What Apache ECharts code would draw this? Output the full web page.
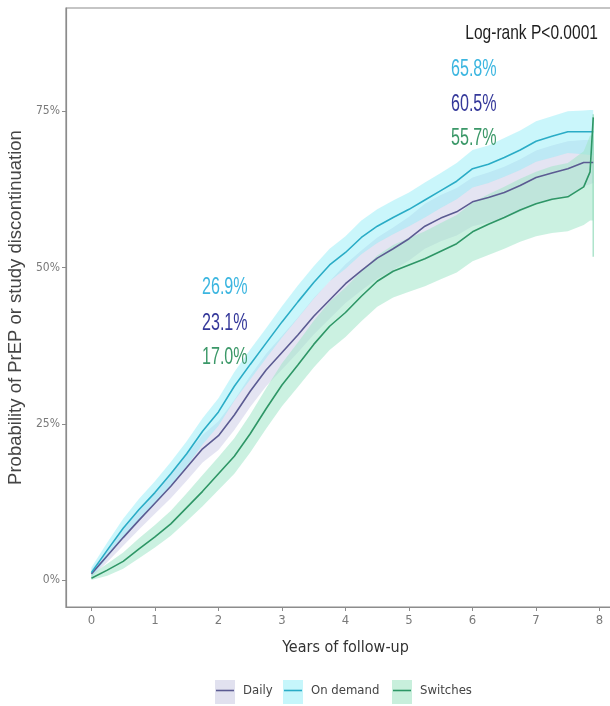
<!DOCTYPE html>
<html>
<head>
<meta charset="utf-8">
<script src="https://cdn.jsdelivr.net/npm/echarts@6/dist/echarts.min.js"></script>
<style>
html,body{margin:0;padding:0;background:#fff;overflow:hidden;}
#chart{width:610px;height:706px;}
</style>
</head>
<body>
<div id="chart"></div>
<script>
// ---- data (years of follow-up, cumulative probability in %) ----
const years = [0,0.25,0.5,0.75,1,1.25,1.5,1.75,2,2.25,2.5,2.75,3,3.25,3.5,3.75,4,4.25,4.5,4.75,5,5.25,5.5,5.75,6,6.25,6.5,6.75,7,7.25,7.5,7.75,7.85,7.9];

const dailyEst   = [1.0,3.9,6.8,9.6,12.3,15.0,18.0,21.0,23.1,26.4,30.2,33.6,36.4,39.2,42.2,44.8,47.4,49.5,51.5,53.0,54.6,56.6,57.9,58.9,60.5,61.2,62.0,63.1,64.4,65.1,65.8,66.8,66.8,66.8];
const dailyLower = [0.4,2.9,5.5,8.1,10.6,13.1,15.9,18.8,20.8,24.0,27.7,31.0,33.7,36.4,39.3,41.8,44.3,46.3,48.2,49.6,51.1,53.0,54.2,55.1,56.6,57.2,57.9,58.9,60.1,60.7,61.4,63.0,63.3,63.5];
const dailyUpper = [1.6,4.9,8.1,11.1,14.0,16.9,20.1,23.2,25.4,28.8,32.7,36.2,39.1,42.0,45.1,47.8,50.5,52.7,54.8,56.4,58.1,60.2,61.6,62.7,64.4,65.2,66.1,67.3,68.7,69.5,70.2,70.4,70.4,70.4];

const onDemandEst   = [1.2,4.8,8.3,11.3,14.0,17.0,20.2,23.8,26.9,31.0,34.5,37.9,41.3,44.5,47.6,50.4,52.4,54.8,56.6,58.0,59.3,60.8,62.3,63.8,65.8,66.5,67.6,68.8,70.2,71.0,71.7,71.7,71.7,71.7];
const onDemandLower = [0.4,3.6,6.8,9.6,12.2,15.1,18.2,21.7,24.7,28.7,32.1,35.5,38.8,41.9,45.0,47.8,49.8,52.1,53.9,55.3,56.6,58.0,59.5,60.9,62.8,63.5,64.5,65.6,66.9,67.6,68.3,68.1,68.0,68.0];
const onDemandUpper = [2.0,6.0,9.8,13.0,15.8,18.9,22.2,25.9,29.1,33.3,36.9,40.3,43.8,47.1,50.2,53.0,55.0,57.5,59.3,60.7,62.0,63.6,65.1,66.7,68.8,69.5,70.7,71.9,73.4,74.2,75.0,75.1,75.2,75.2];

const switchesEst   = [0.3,1.6,3.0,5.0,6.9,9.0,11.6,14.2,17.0,19.8,23.4,27.4,31.2,34.4,37.7,40.6,42.8,45.4,47.8,49.4,50.4,51.4,52.6,53.8,55.7,56.9,58.0,59.2,60.2,60.9,61.3,62.9,65.3,74.0];
const switchesLower = [0.0,0.7,1.8,3.5,5.2,7.1,9.4,11.8,14.4,17.0,20.4,24.2,27.8,30.9,34.0,36.8,38.9,41.4,43.7,45.2,46.1,47.0,48.1,49.2,51.0,52.0,53.0,54.1,55.0,55.5,55.8,56.8,57.5,57.5];
const switchesUpper = [0.9,2.6,4.4,6.7,8.8,11.1,13.9,16.8,19.7,22.7,26.5,30.7,34.7,38.0,41.5,44.5,46.8,49.4,51.9,53.6,54.7,55.8,57.1,58.4,60.4,61.7,62.9,64.2,65.3,66.2,66.7,68.6,71.1,71.1];
const switchesFinalYear = 7.9;
const switchesFinalCI = [51.7, 74.5];

const groups = ['Daily', 'On demand', 'Switches'];
const xTicks = [0,1,2,3,4,5,6,7,8];
const yTicks = [0,25,50,75];

// annotated estimates at 2 and 6 years (order: on demand, daily, switches)
const annot2y = ['26.9%', '23.1%', '17.0%'];
const annot6y = ['65.8%', '60.5%', '55.7%'];
const pvalueText = 'Log-rank P<0.0001';

// ---- styling ----
const FONT = "'DejaVu Sans Condensed','Liberation Sans',sans-serif";
const lineColor = {'Daily':'#5b5b92','On demand':'#2aacc6','Switches':'#2e9666'};
const bandColor = {'Daily':'rgba(205,205,232,0.55)','On demand':'rgba(150,238,248,0.5)','Switches':'rgba(160,230,200,0.55)'};
const legendBand = {'Daily':'#e1e1ef','On demand':'#c6f6fb','Switches':'#c8efdc'};
const annColor = ['#3cb6e0','#34389a','#3b9868'];

const est = {'Daily':dailyEst,'On demand':onDemandEst,'Switches':switchesEst};
const lo  = {'Daily':dailyLower,'On demand':onDemandLower,'Switches':switchesLower};
const up  = {'Daily':dailyUpper,'On demand':onDemandUpper,'Switches':switchesUpper};

function bandSeries(g){
  return {
    type:'custom', name:g+' band', silent:true, z:1,
    data:[[years[0], lo[g][0]]],
    renderItem:function(params, api){
      const pts=[];
      for(let i=0;i<years.length;i++) pts.push(api.coord([years[i], up[g][i]]));
      for(let i=years.length-1;i>=0;i--) pts.push(api.coord([years[i], lo[g][i]]));
      return {type:'polygon', shape:{points:pts}, style:{fill:bandColor[g]}};
    }
  };
}
function lineSeries(g){
  return {
    type:'line', name:g, z:3, symbol:'none', showSymbol:false, silent:true,
    data: years.map((t,i)=>[t, est[g][i]]),
    lineStyle:{color:lineColor[g], width:1.6},
    itemStyle:{color:lineColor[g]}
  };
}

const series = [];
groups.forEach(g=>series.push(bandSeries(g)));
series.push({
  type:'line', name:'Switches final CI', z:2, symbol:'none', silent:true,
  data:[[switchesFinalYear, switchesFinalCI[0]],[switchesFinalYear, switchesFinalCI[1]]],
  lineStyle:{color:'rgba(120,210,170,0.6)', width:1.5}
});
groups.forEach(g=>series.push(lineSeries(g)));

const legendLeft = {'Daily':215,'On demand':283,'Switches':392};
const legends = [];
groups.forEach(g=>{
  legends.push({
    data:[{name:g, icon:'rect', itemStyle:{color:legendBand[g], borderWidth:0}}],
    left:legendLeft[g], top:680, itemWidth:20, itemHeight:24, selectedMode:false,
    formatter:()=> '', z:2, padding:0
  });
  legends.push({
    data:[{name:g, icon:'rect', itemStyle:{color:lineColor[g], borderWidth:0}}],
    left:legendLeft[g]+1, top:684, itemWidth:18, itemHeight:1.6, selectedMode:false,
    z:3, padding:0,
    textStyle:{fontSize:13, color:'#444', fontFamily:FONT, padding:[0,0,0,4]}
  });
});

const chart = echarts.init(document.getElementById('chart'), null, {renderer:'canvas'});
chart.setOption({
  animation:false,
  backgroundColor:'#fff',
  textStyle:{fontFamily:FONT},
  grid:{left:66, width:559, top:8, bottom:99, show:true, borderColor:'#8c8c8c', borderWidth:1.2,
        containLabel:false, outerBoundsMode:'none'},
  legend:legends,
  xAxis:{
    type:'value', min:-0.4, max:8.4,
    name:'Years of follow-up', nameLocation:'middle', nameGap:33,
    nameTextStyle:{fontSize:16, color:'#333', fontFamily:FONT},
    axisLine:{show:true, onZero:false, lineStyle:{color:'#8c8c8c', width:1.2}},
    axisTick:{show:true, customValues:xTicks, length:4, lineStyle:{color:'#8c8c8c'}},
    axisLabel:{customValues:xTicks, color:'#7a7a7a', fontSize:13, margin:7, fontFamily:FONT},
    splitLine:{show:false}
  },
  yAxis:{
    type:'value', min:-4.3, max:91.5,
    name:'Probability of PrEP or study discontinuation', nameLocation:'middle', nameGap:35,
    nameTextStyle:{fontSize:18.5, color:'#444', fontFamily:"'Liberation Sans',sans-serif"},
    axisLine:{show:true, onZero:false, lineStyle:{color:'#8c8c8c', width:1.2}},
    axisTick:{show:true, customValues:yTicks, length:4, lineStyle:{color:'#8c8c8c'}},
    axisLabel:{customValues:yTicks, formatter:v=>v+'%', color:'#7a7a7a', fontSize:12, margin:6, fontFamily:FONT},
    splitLine:{show:false}
  },
  series:series
});

// annotations placed through the chart's own coordinate conversion
const labelYear2 = 2.1, labelYear6 = 6.02;
const labelPct2 = [46.7, 41.0, 35.6];
const labelPct6 = [81.6, 76.1, 70.6];
const graphics = [];
function addText(xv, yv, text, color, size, sx){
  const p = chart.convertToPixel({gridIndex:0}, [xv, yv]);
  graphics.push({
    type:'text', x:p[0], y:p[1], scaleX:sx, z:10, silent:true,
    style:{text:text, fill:color, font:size+"px 'Liberation Sans', Arial, sans-serif", align:'center', verticalAlign:'middle'}
  });
}
for(let i=0;i<3;i++){
  addText(labelYear2, labelPct2[i], annot2y[i], annColor[i], 23, 0.7);
  addText(labelYear6, labelPct6[i], annot6y[i], annColor[i], 23, 0.7);
}
addText(6.93, 87.5, pvalueText, '#1e1e1e', 21, 0.74);
chart.setOption({graphic:graphics});
</script>
</body>
</html>
